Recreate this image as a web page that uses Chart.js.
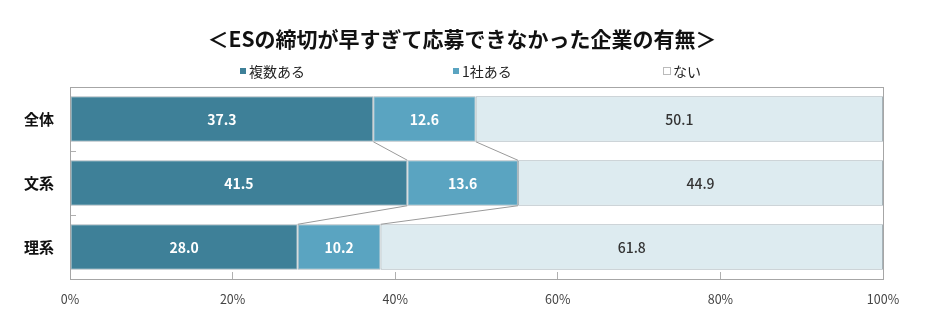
<!DOCTYPE html>
<html lang="ja">
<head>
    <meta charset="UTF-8">
    <title>ESの締切が早すぎて応募できなかった企業の有無</title>
    <script src="https://cdn.jsdelivr.net/npm/chart.js"></script>
    <style>
        body { margin: 0; background: white; }
        #wrap { position: relative; width: 946px; height: 322px; }
        #title { position: absolute; top: 24px; left: 462px; transform: translateX(-50%); white-space: nowrap;
                 font-family: "Noto Sans CJK JP", sans-serif; font-size: 21px; font-weight: bold; color: #111;
                 line-height: 28px; }
        #legend { position: absolute; top: 62px; left: 0; width: 946px; height: 20px;
                  font-family: "Noto Sans CJK JP", sans-serif; font-size: 14px; color: #222; }
        .item { position: absolute; top: 0; line-height: 18px; white-space: nowrap; }
        .box { display: inline-block; width: 6px; height: 6px; margin-right: 3px; vertical-align: 3px; }
    </style>
</head>
<body>
<div id="wrap">
    <canvas id="chart" width="946" height="322"></canvas>
    <div id="title">＜ESの締切が早すぎて応募できなかった企業の有無＞</div>
    <div id="legend"></div>
</div>
<script>
    // データ
    const categories = ['全体', '文系', '理系'];
    const seriesNames = ['複数ある', '1社ある', 'ない'];
    const several = [37.3, 41.5, 28.0];
    const oneCompany = [12.6, 13.6, 10.2];
    const none = [50.1, 44.9, 61.8];
    const xTicks = [0, 20, 40, 60, 80, 100];

    const colors = ['#3E8098', '#5AA4C1', '#DDEBF0'];
    const labelColors = ['#ffffff', '#ffffff', '#333333'];
    const seriesData = [several, oneCompany, none];

    // 凡例 (HTML)
    const legendX = [240, 453, 664];
    const legendEl = document.getElementById('legend');
    seriesNames.forEach(function(name, i) {
        const item = document.createElement('div');
        item.className = 'item';
        item.style.left = legendX[i] + 'px';
        const box = document.createElement('span');
        box.className = 'box';
        box.style.background = i === 2 ? '#fff' : colors[i];
        if (i === 2) box.style.outline = '1px solid #bbb';
        item.appendChild(box);
        item.appendChild(document.createTextNode(name));
        legendEl.appendChild(item);
    });

    // 枠・系列線・データラベル
    const decorPlugin = {
        id: 'decor',
        afterDatasetsDraw(chart) {
            const ctx = chart.ctx;
            const area = chart.chartArea;
            ctx.save();
            // 系列線
            ctx.strokeStyle = '#9a9a9a';
            ctx.lineWidth = 1;
            for (let d = 0; d < 2; d++) {
                const bars = chart.getDatasetMeta(d).data;
                for (let i = 0; i < bars.length - 1; i++) {
                    const a = bars[i], b = bars[i + 1];
                    ctx.beginPath();
                    ctx.moveTo(a.x, a.y + a.height / 2);
                    ctx.lineTo(b.x, b.y - b.height / 2);
                    ctx.stroke();
                }
            }
            // ラベル
            ctx.textAlign = 'center';
            ctx.textBaseline = 'middle';
            chart.data.datasets.forEach(function(ds, d) {
                ctx.font = (d < 2 ? '600 ' : '500 ') + '14px "Noto Sans CJK JP", sans-serif';
                chart.getDatasetMeta(d).data.forEach(function(bar, i) {
                    ctx.fillStyle = labelColors[d];
                    ctx.fillText(ds.data[i].toFixed(1), (bar.x + bar.base) / 2, bar.y + 1);
                });
            });
            // プロットエリア枠
            ctx.strokeStyle = '#a6a6a6';
            ctx.strokeRect(Math.round(area.left) + 0.5, Math.round(area.top) + 0.5,
                Math.round(area.right - area.left), Math.round(area.bottom - area.top));
            ctx.restore();
        }
    };

    new Chart(document.getElementById('chart'), {
        type: 'bar',
        data: {
            labels: categories,
            datasets: seriesNames.map(function(name, i) {
                return {
                    label: name,
                    data: seriesData[i],
                    backgroundColor: colors[i],
                    borderColor: '#a7b4ba',
                    borderWidth: 1,
                    borderSkipped: false,
                    barPercentage: 0.71,
                    categoryPercentage: 1
                };
            })
        },
        options: {
            indexAxis: 'y',
            responsive: false,
            animation: false,
            layout: { padding: { left: 0, right: 63, top: 87, bottom: 0 } },
            scales: {
                x: {
                    stacked: true,
                    min: 0,
                    max: 100,
                    afterBuildTicks: function(scale) {
                        scale.ticks = xTicks.map(function(v) { return { value: v }; });
                    },
                    afterFit: function(scale) { scale.height = 43; },
                    grid: { drawOnChartArea: false, tickLength: -7, color: '#b0b0b0' },
                    border: { color: '#a6a6a6' },
                    ticks: {
                        padding: 20,
                        color: '#444',
                        font: { family: '"Noto Sans CJK JP", sans-serif', size: 12.5 },
                        callback: function(v) { return v + '%'; }
                    }
                },
                y: {
                    stacked: true,
                    afterFit: function(scale) { scale.width = 70; },
                    grid: { drawOnChartArea: false, tickLength: -6, color: '#b0b0b0' },
                    border: { color: '#a6a6a6' },
                    ticks: {
                        padding: 22,
                        color: '#111',
                        font: { family: '"Noto Sans CJK JP", sans-serif', size: 15, weight: 'bold' }
                    }
                }
            },
            plugins: {
                legend: { display: false },
                tooltip: { enabled: false },
                title: { display: false }
            }
        },
        plugins: [decorPlugin]
    });
</script>
</body>
</html>
